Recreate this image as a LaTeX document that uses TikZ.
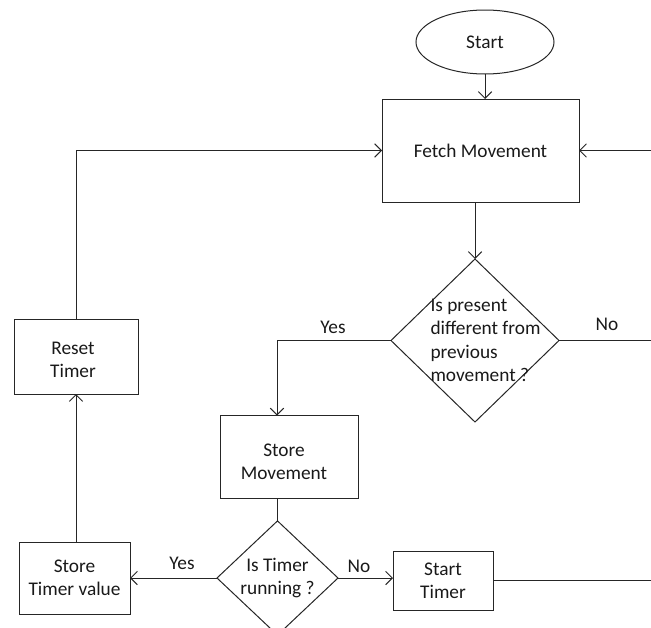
\documentclass[tikz,border=0pt]{standalone}
\usepackage{fontspec}
\setmainfont{Carlito}
\usetikzlibrary{shapes.geometric,arrows.meta}
\begin{document}
\begin{tikzpicture}[x=0.75pt,y=-0.75pt,
  every node/.style={font=\fontsize{14.5}{17.5}\selectfont, text=black!90},
  flowline/.style={draw=black!85, line width=0.75pt},
  arr/.style={flowline, -{Straight Barb[length=5pt,width=10pt]}},
  procbox/.style={draw=black!85, line width=0.75pt, rectangle, align=center, inner sep=0pt, outer sep=0pt},
  decision/.style={draw=black!85, line width=0.75pt, diamond, align=center, inner sep=0pt, outer sep=0pt},
  lbl/.style={inner sep=0pt}]
\clip (0,0) rectangle (651,628);
% nodes
\node[draw=black!85, line width=0.75pt, ellipse, inner sep=0pt, outer sep=0pt,
      minimum width=138*0.75pt, minimum height=64*0.75pt] (start) at (485,42) {Start};
\node[procbox, minimum width=197*0.75pt, minimum height=103*0.75pt] (fetch) at (480.5,150.5) {Fetch Movement};
\node[decision, minimum width=168*0.75pt, minimum height=163*0.75pt] (d1) at (475,340.5) {};
\node[lbl, align=left] (d1t) at (485.5,340.5) {Is present\\different from\\previous\\movement ?};
\node[procbox, minimum width=138*0.75pt, minimum height=83*0.75pt] (storem) at (289,457) {};
\node[lbl, align=center] (storemt) at (284,461.5) {Store\\Movement};
\node[decision, minimum width=121*0.75pt, minimum height=106*0.75pt] (d2) at (277.5,578) {Is Timer\\running ?};
\node[procbox, minimum width=100*0.75pt, minimum height=59*0.75pt] (startt) at (443,580.5) {Start\\Timer};
\node[procbox, minimum width=111*0.75pt, minimum height=72*0.75pt] (storetv) at (74.5,578) {Store\\Timer value};
\node[procbox, minimum width=124*0.75pt, minimum height=75*0.75pt] (reset) at (76,356.5) {};
\node[lbl, align=center] (resett) at (73,360) {Reset\\Timer};
% labels
\node[lbl] (yes1) at (333,327) {Yes};
\node[lbl] (no1) at (607,324) {No};
\node[lbl] (yes2) at (182,563) {Yes};
\node[lbl] (no2) at (359,566) {No};
% free ends
\coordinate (rin) at (651,150.5);
\coordinate (rout1) at (651,340.5);
\coordinate (rout2) at (651,580.5);
\coordinate (yesc) at (277,340.5);
% connectors
\draw[arr] (start.south) -- (start.south |- fetch.north);
\draw[arr] (fetch.south -| d1.north) -- (d1.north);
\draw[arr] (rin) -- (fetch.east);
\draw[flowline] (d1.east) -- (rout1);
\draw[arr] (d1.west) -- (yesc) -- (yesc |- storem.north);
\draw[flowline] (d2.north |- storem.south) -- (d2.north);
\draw[arr] (d2.east) -- (d2.east -| startt.west);
\draw[flowline] (startt.east) -- (rout2);
\draw[arr] (d2.west) -- (d2.west -| storetv.east);
\draw[arr] (reset.south |- storetv.north) -- (reset.south);
\draw[arr] (reset.north) |- (fetch.west);
\end{tikzpicture}
\end{document}
